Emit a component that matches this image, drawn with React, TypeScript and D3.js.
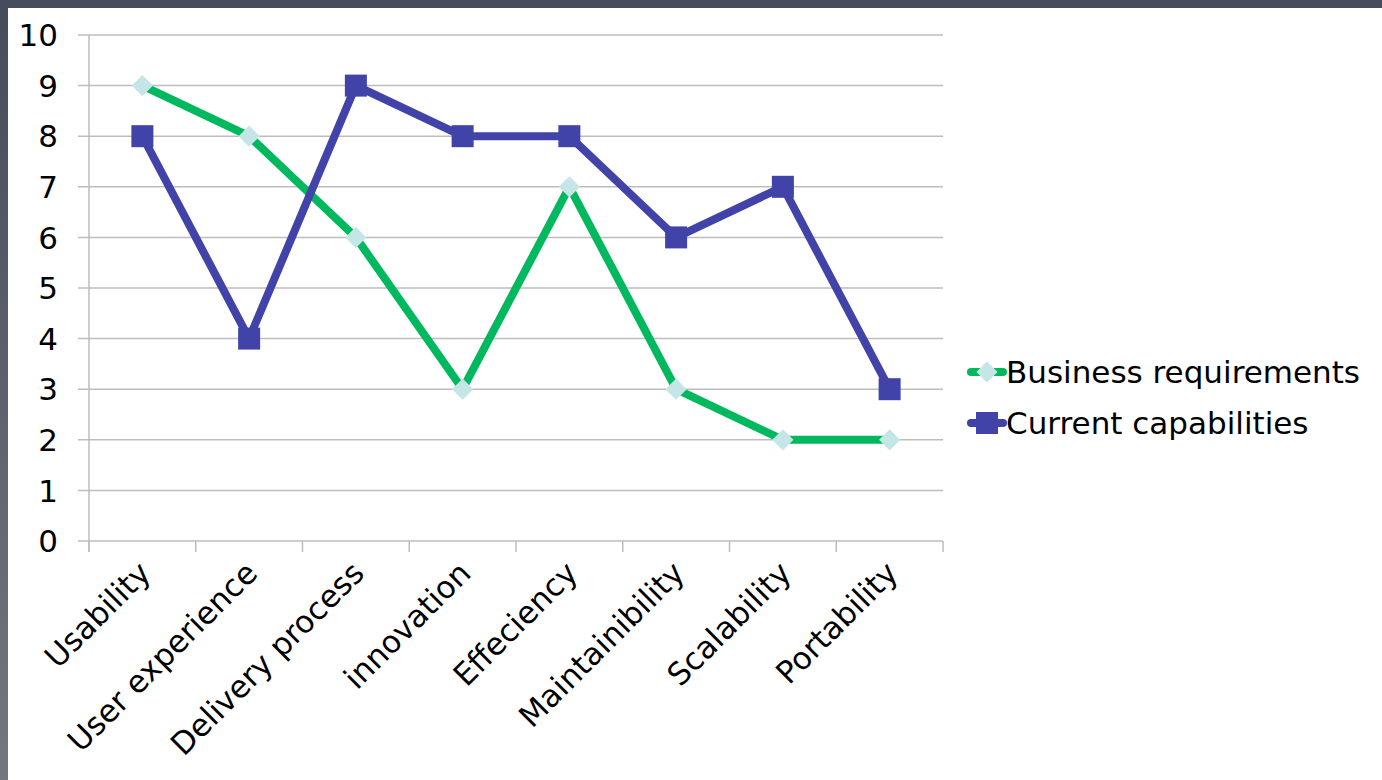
import React from "react";
import * as d3 from "d3";

const categories = ["Usability", "User experience", "Delivery process", "innovation", "Effeciency", "Maintainibility", "Scalability", "Portability"];
const businessRequirements = [9, 8, 6, 3, 7, 3, 2, 2];
const currentCapabilities = [8, 4, 9, 8, 8, 6, 7, 3];
const yTicks = [0, 1, 2, 3, 4, 5, 6, 7, 8, 9, 10];
const seriesNames = ["Business requirements", "Current capabilities"];

const W = 1382, H = 780;
const FONT = "'DejaVu Sans', Verdana, sans-serif";
const FS = 31;
const GREEN = "#00b95e";
const BLUE = "#4143a8";
const DIAMOND = "#c6e5e6";

export default function App() {
  const x = d3.scaleBand<string>().domain(categories).range([89, 943]);
  const y = d3.scaleLinear().domain([0, 10]).range([541, 35]);
  const cx = (c: string) => (x(c) as number) + x.bandwidth() / 2;
  const line = d3.line<number>().x((_, i) => cx(categories[i])).y((v) => y(v));
  const ticksX = [...categories.map((c) => x(c) as number), 943];

  const diamond = (px: number, py: number, key: string | number) => (
    <rect key={key} x={px - 7.5} y={py - 7.5} width={15} height={15} fill={DIAMOND}
      transform={`rotate(45 ${px} ${py})`} />
  );
  const square = (px: number, py: number, key: string | number) => (
    <rect key={key} x={px - 11} y={py - 11} width={22} height={22} fill={BLUE} />
  );

  return (
    <svg width={W} height={H} style={{ position: "fixed", left: 0, top: 0, display: "block" }}>
      <defs>
        <linearGradient id="frameG" x1="0" y1="0" x2="0" y2="1">
          <stop offset="0" stopColor="#454b5b" />
          <stop offset="1" stopColor="#74777f" />
        </linearGradient>
      </defs>
      <rect x={0} y={0} width={W} height={H} fill="url(#frameG)" />
      <rect x={8} y={8} width={W - 8} height={H - 8} fill="#ffffff" />

      {yTicks.map((t) => (
        <g key={t}>
          <line x1={78} x2={943} y1={y(t)} y2={y(t)} stroke="#bdbdbd" strokeWidth={1.5} />
          <text x={58} y={y(t)} dy="0.36em" textAnchor="end" fontFamily={FONT} fontSize={FS} fill="#000">{t}</text>
        </g>
      ))}
      <line x1={89} x2={89} y1={35} y2={552} stroke="#bdbdbd" strokeWidth={1.5} />
      {ticksX.map((t, i) => (
        <line key={i} x1={t} x2={t} y1={541} y2={552} stroke="#bdbdbd" strokeWidth={1.5} />
      ))}

      {categories.map((c) => (
        <text key={c} transform={`translate(${cx(c) + 10},${575}) rotate(-45)`} textAnchor="end"
          fontFamily={FONT} fontSize={FS} fill="#000">{c}</text>
      ))}

      <path d={line(businessRequirements) || ""} fill="none" stroke={GREEN} strokeWidth={8} strokeLinejoin="round" />
      <path d={line(currentCapabilities) || ""} fill="none" stroke={BLUE} strokeWidth={8} strokeLinejoin="round" />
      {businessRequirements.map((v, i) => diamond(cx(categories[i]), y(v), "b" + i))}
      {currentCapabilities.map((v, i) => square(cx(categories[i]), y(v), "c" + i))}

      {seriesNames.map((name, i) => {
        const ly = 372 + i * 51;
        return (
          <g key={name}>
            <line x1={971} x2={1003} y1={ly} y2={ly} stroke={i === 0 ? GREEN : BLUE} strokeWidth={8} strokeLinecap="round" />
            {i === 0 ? diamond(987, ly, "ld") : square(987, ly, "ls")}
            <text x={1006} y={ly} dy="0.36em" fontFamily={FONT} fontSize={FS} fill="#000">{name}</text>
          </g>
        );
      })}
    </svg>
  );
}
